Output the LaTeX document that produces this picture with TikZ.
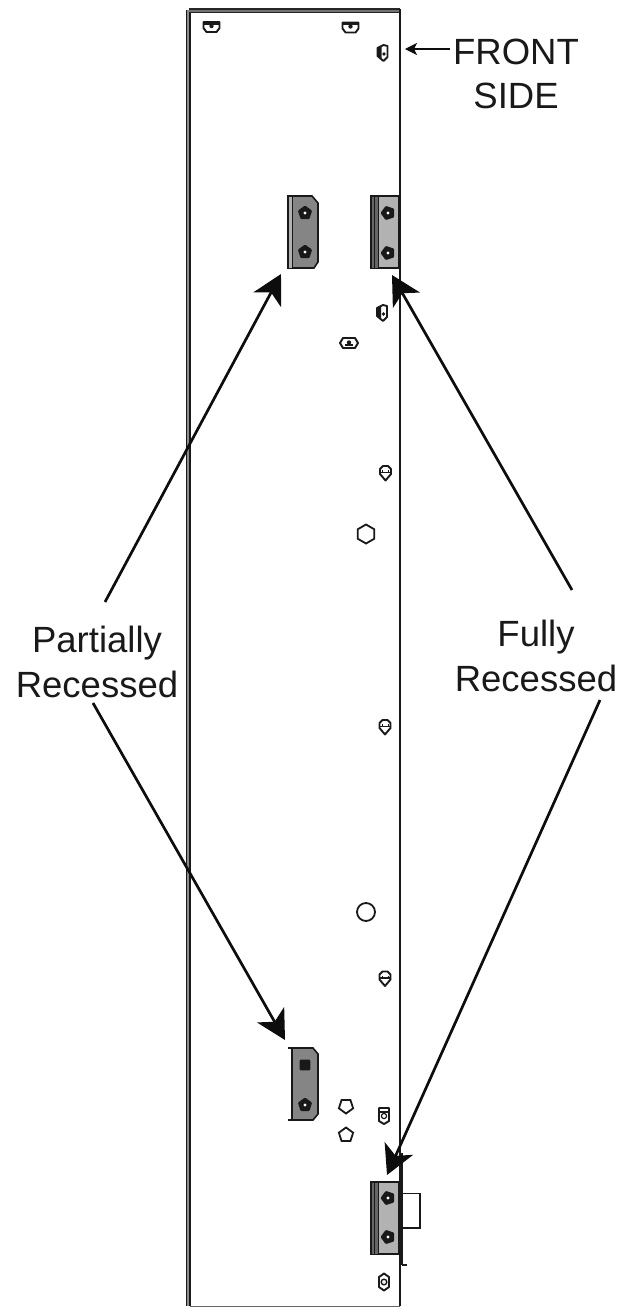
\documentclass[tikz,border=0pt]{standalone}
\usepackage{fontspec}
\setmainfont{Liberation Sans}
\usetikzlibrary{arrows.meta, shapes, positioning}

\tikzset{
  wideclip/.pic={
    \draw[partmark] (-8, -5) -- (8, -5) -- (8, 1) -- (5, 5) -- (-5, 5) -- (-8, 1) -- cycle;
    \fill[black!90] (-8, -5) rectangle (8, -2.5);
    \fill[black!90] (0, -1) circle (2.2);
  },
  hexclip/.pic={
    \draw[partmark] (-9, 0) -- (-6, -5) -- (6, -5) -- (9, 0) -- (6, 5) -- (-6, 5) -- cycle;
    \fill[black!90] (0, -.5) circle (2.2);
    \fill[black!90] (-4, 1) rectangle (4, 3);
  },
  tallclip/.pic={
    \draw[partmark] (-5, -5) -- (1, -8) -- (5, -7) -- (5, 4) -- (1, 8) -- (-5, 3) -- cycle;
    \fill[black!90] (-5, -5) -- (-1, -7) -- (-1, 5) -- (-5, 3) -- cycle;
    \fill[black!90] (1.5, 1) circle (1.8);
  },
  shield/.pic={
    \draw[partmark] (-5.5, -4) -- (-2.5, -7) -- (2.5, -7) -- (5.5, -4) -- (5.5, 1) -- (0, 7.5) -- (-5.5, 1) -- cycle;
    \fill[black!90] (-5, -1.5) rectangle (5, .2);
    \fill[black!90] (-3.5, -3) rectangle (-2.5, -1);
    \fill[black!90] (2.5, -3) rectangle (3.5, -1);
  },
  latch/.pic={
    \draw[partmark] (-5, -8) -- (5, -8) -- (5, 5) -- (0, 8) -- (-5, 5) -- cycle;
    \fill[black!90] (-4, -5) rectangle (4, -3);
    \draw[black!90, line width=1.2pt] (0, 0) circle (2.6);
  },
  lug/.pic={
    \draw[partmark] (-5, -5) -- (0, -8.5) -- (5, -5) -- (5, 5) -- (0, 8.5) -- (-5, 5) -- cycle;
    \draw[black!90, line width=1.4pt] (0, 0) circle (2.8);
  }
}

\begin{document}
\begin{tikzpicture}[x=1pt, y=-1pt]

\tikzstyle{textlabel} = [font=\fontsize{36.5}{45}\selectfont, align=center, inner sep=0pt, text=black!90]
\tikzstyle{partmark} = [draw=black!90, line width=1.9pt, fill=white, line join=round]
\tikzstyle{panelline} = [black!90, line width=2pt]
\tikzstyle{lightplate} = [draw=black!90, line width=1.6pt, fill=black!30]
\tikzstyle{darkplate} = [draw=black!90, line width=1.6pt, fill=black!48]
\tikzstyle{arrow} = [black!95, line width=2.7pt, -{Stealth[length=29pt, width=31pt, inset=8pt]}]
\tikzstyle{thinarrow} = [black!95, line width=1.2pt, -{Stealth[length=12pt, width=12pt, inset=3pt]}]
\tikzstyle{hole} = [draw=black!90, line width=1.8pt, inner sep=0pt, fill=white]
\tikzstyle{smallpent} = [hole, regular polygon, regular polygon sides=5, minimum size=15pt]
\tikzstyle{screw} = [regular polygon, regular polygon sides=5, fill=black!90, inner sep=0pt, minimum size=15pt, rounded corners=1pt]

\useasboundingbox (0, 0) rectangle (621, 1307);

% Panel
\draw[black!60, line width=1pt] (190, 1306) -- (400, 1306);
\draw[black!90, line width=1.7pt, double=black!45, double distance=1.6pt] (188, 10) -- (188, 1306);
\draw[black!85, line width=1.2pt, double=black!55, double distance=2pt] (189, 10.5) -- (400, 10.5);
\draw[panelline] (399.7, 9) -- (399.7, 1306);

% Brackets
\draw[darkplate] (288, 196) -- (312, 196) -- (318, 203) -- (318, 262) -- (314, 268) -- (288, 268) -- cycle;
\draw[black!90, line width=1pt, fill=black!30] (288, 196) rectangle (292, 268);
\draw[lightplate] (371, 196) rectangle (399, 268);
\draw[black!90, line width=1pt, fill=black!60] (371, 196) rectangle (378, 268);
\draw[black!90, line width=.8pt] (374.5, 196) -- (374.5, 268);
\draw[darkplate] (288, 1048) -- (313, 1048) -- (318, 1054) -- (318, 1114) -- (313, 1120) -- (288, 1120);
\fill[white] (287, 1049) rectangle (292, 1119);
\draw[black!90, line width=1.6pt] (292, 1048) -- (292, 1120);
\draw[lightplate] (371, 1182) rectangle (399, 1254);
\draw[black!90, line width=1pt, fill=black!60] (371, 1182) rectangle (378, 1254);
\draw[black!90, line width=.8pt] (374.5, 1182) -- (374.5, 1254);

% Lower right hardware
\draw[black!90, line width=2.6pt] (402, 1153) -- (402, 1265);
\draw[black!90, line width=1.4pt] (402, 1265) -- (407, 1265);
\draw[black!90, line width=1.4pt] (403, 1193.5) -| (420, 1228) -- (403, 1228);

% Screws
\node (s1) [screw] at (305, 213) {};
\node (s2) [screw] at (305, 252) {};
\node (s3) [screw, shape border rotate=90] at (388, 213) {};
\node (s4) [screw, shape border rotate=90] at (388, 253) {};
\node (s5) [screw, regular polygon sides=4] at (305, 1065) {};
\node (s6) [screw] at (305, 1105) {};
\node (s7) [screw, shape border rotate=90] at (388, 1198) {};
\node (s8) [screw, shape border rotate=90] at (388, 1237) {};
\foreach \n in {s1, s2, s3, s4, s6, s7, s8}
  \fill[white] (\n) circle (1.6);

% Holes
\node (h1) [hole, regular polygon, regular polygon sides=6, minimum size=19pt, shape border rotate=30] at (366, 534) {};
\node (h2) [hole, circle, minimum size=18pt] at (366, 912) {};
\node (h3) [smallpent, shape border rotate=180] at (346, 1106) {};
\node (h4) [smallpent] at (346, 1135) {};
\pic (h5) at (385.5, 473) {shield};
\pic (h6) at (385, 727) {shield};
\pic (h7) at (385, 978.5) {shield};

% Clips
\pic (c1) at (211.5, 27) {wideclip};
\pic (c2) at (350.5, 27.5) {wideclip};
\pic (c3) at (349, 343) {hexclip};
\pic (c4) at (382.5, 53) {tallclip};
\pic (c5) at (382, 313) {tallclip};
\pic (c6) at (384, 1116) {latch};
\pic (c7) at (384, 1282) {lug};

% Labels
\node (front) [textlabel, font=\fontsize{36.5}{43.5}\selectfont, anchor=north] at (516, 39) {FRONT\\SIDE};
\node (partial) [textlabel] at (97, 662) {Partially\\Recessed};
\node (full) [textlabel] at (536, 656) {Fully\\Recessed};

% Arrow ends
\coordinate (pa) at (105, 602);
\coordinate (pb) at (93, 703);
\coordinate (fa) at (572, 590);
\coordinate (fb) at (600, 700);
\coordinate (fronttip) at (405, 49);
\coordinate (frontend) at (450, 49);
\coordinate (pta) at (281, 274);
\coordinate (ptb) at (285, 1040);
\coordinate (fta) at (392, 275);
\coordinate (ftb) at (387, 1175);

% Connect nodes
\draw[arrow] (pa) -- (pta);
\draw[arrow] (pb) -- (ptb);
\draw[arrow] (fa) -- (fta);
\draw[arrow] (fb) -- (ftb);
\draw[thinarrow] (frontend) -- (fronttip);

\end{tikzpicture}
\end{document}
